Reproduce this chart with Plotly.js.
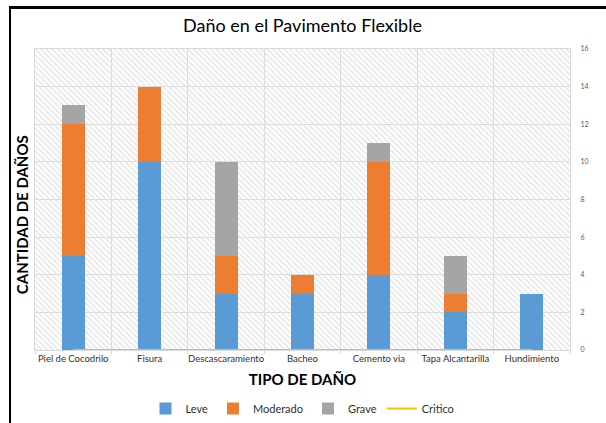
<!DOCTYPE html>
<html>
<head>
<meta charset="utf-8">
<script src="https://cdn.plot.ly/plotly-3.0.1.min.js"></script>
<style>
  html, body { margin: 0; padding: 0; background: #ffffff; }
  #wrap { position: relative; width: 606px; height: 423px; overflow: hidden; }
  #chart { position: absolute; left: 0; top: 0; width: 606px; height: 423px; }
  #frame { position: absolute; left: 9px; top: 6px; width: 620px; height: 440px;
           border-left: 2px solid #000; border-top: 3px solid #000; pointer-events: none; }
</style>
</head>
<body>
<div id="wrap">
  <div id="chart"></div>
  <div id="frame"></div>
</div>
<script>
const categories = ["Piel de Cocodrilo", "Fisura", "Descascaramiento", "Bacheo", "Cemento via", "Tapa Alcantarilla", "Hundimiento"];
const leve     = [5, 10, 3, 3, 4, 2, 3];
const moderado = [7, 4, 2, 1, 6, 1, 0];
const grave    = [1, 0, 5, 0, 1, 2, 0];
const critico  = [0, 0, 0, 0, 0, 0, 0];
const yTicks   = [0, 2, 4, 6, 8, 10, 12, 14, 16];
const yMax = 16;

const FONT = "Lato, 'Open Sans', sans-serif";

const hatch = {
  type: "bar", x: categories, y: categories.map(() => yMax),
  xaxis: "x", yaxis: "y", width: 1, showlegend: false, hoverinfo: "skip",
  marker: { color: "#e3e3e3", line: { width: 0 },
            pattern: { shape: "\\", size: 4, solidity: 0.35, fillmode: "replace" } }
};

function barTrace(name, vals, color) {
  return { type: "bar", name: name, x: categories, y: vals, xaxis: "x2", yaxis: "y",
           width: 0.3, marker: { color: color, line: { width: 0 } } };
}

const traces = [
  hatch,
  barTrace("Leve", leve, "#5b9bd5"),
  barTrace("Moderado", moderado, "#ed7d31"),
  barTrace("Grave", grave, "#a5a5a5"),
  { type: "scatter", mode: "lines", name: "Critico", x: categories, y: critico,
    xaxis: "x2", yaxis: "y", line: { color: "#ffc000", width: 2 } }
];

const layout = {
  width: 606, height: 423,
  margin: { l: 35, r: 36, t: 49, b: 73 },
  paper_bgcolor: "#ffffff", plot_bgcolor: "#ffffff",
  font: { family: FONT, color: "#404040" },
  barmode: "stack", bargap: 0,
  title: { text: "Daño en el Pavimento Flexible", x: 0.5, xref: "paper", xanchor: "center",
           y: 1, yref: "container", yanchor: "top", pad: { t: 19 },
           font: { family: FONT, size: 18, color: "#000000" } },
  xaxis: {
    type: "category", tickson: "boundaries", range: [-0.5, 6.5], tickangle: 0,
    showgrid: true, gridcolor: "#d9d9d9", gridwidth: 1,
    showline: true, linecolor: "#d9d9d9", mirror: true,
    ticks: "outside", ticklen: 3, tickcolor: "#d9d9d9",
    tickfont: { family: FONT, size: 9.5, color: "#303030" },
    title: { text: "TIPO DE DAÑO", standoff: 11, font: { family: FONT, size: 15, color: "#000000", weight: "bold" } },
    fixedrange: true
  },
  xaxis2: {
    type: "category", overlaying: "x", range: [-0.5, 6.5], visible: false, fixedrange: true
  },
  yaxis: {
    side: "right", range: [0, yMax], tickvals: yTicks, ticktext: yTicks.map(String),
    showgrid: true, gridcolor: "#d9d9d9", gridwidth: 1, zeroline: false,
    showline: true, linecolor: "#d9d9d9", mirror: true,
    ticks: "", ticklabelstandoff: 8,
    tickfont: { family: FONT, size: 7, color: "#595959" },
    fixedrange: true
  },
  legend: { orientation: "h", x: 0.5, xanchor: "center", xref: "paper",
            y: 0, yref: "container", yanchor: "bottom", traceorder: "normal",
            font: { family: FONT, size: 11, color: "#303030" },
            itemwidth: 30, tracegroupgap: 0 },
  annotations: [{
    text: "<b>CANTIDAD DE DAÑOS</b>", textangle: -90,
    xref: "paper", yref: "paper", x: -0.025, y: 0.45, xanchor: "center", yanchor: "middle",
    showarrow: false, font: { family: FONT, size: 15, color: "#000000" }
  }]
};

Plotly.newPlot("chart", traces, layout, { displayModeBar: false, staticPlot: true });
</script>
</body>
</html>
